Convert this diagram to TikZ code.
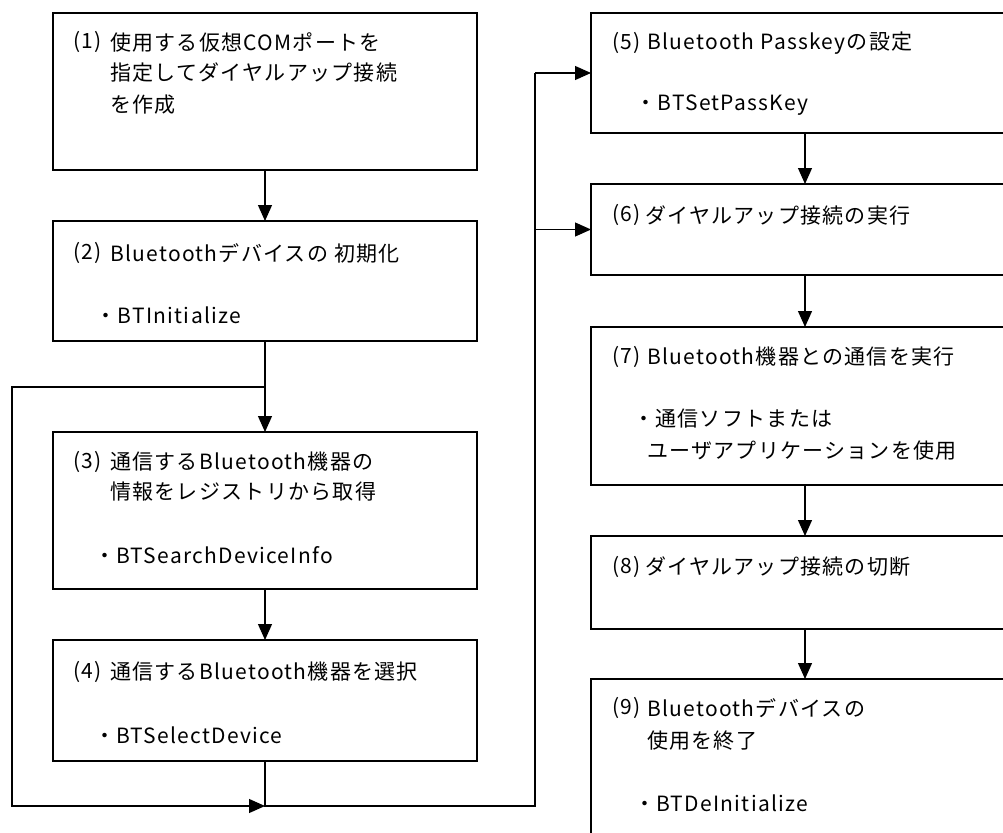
\documentclass[tikz,border=0pt]{standalone}
\usepackage{fontspec}
\setmainfont[LetterSpace=6]{Noto Sans CJK JP}
\usetikzlibrary{arrows.meta}
\begin{document}
\begin{tikzpicture}[x=1pt,y=-1pt,
  box/.style={draw,line width=1.2pt,inner sep=0pt,outer sep=0pt,minimum width=424pt},
  rbox/.style={box,minimum width=428pt},
  txt/.style={anchor=west,inner sep=0pt,font=\fontsize{21pt}{25pt}\selectfont},
  ln/.style={line width=1.2pt},
  arr/.style={ln,-{Triangle[length=16pt,width=14pt]}}]
\useasboundingbox (0,0) rectangle (1003,832);
\fill[white] (0,0) rectangle (1003,832);
\clip (0,0) rectangle (1003,832);
% left column boxes
\node[box,minimum height=157pt] (b1) at (265,91.5) {};
\node[box,minimum height=120pt] (b2) at (265,281) {};
\node[box,minimum height=157pt] (b3) at (265,510.5) {};
\node[box,minimum height=121pt] (b4) at (265,700.5) {};
% right column boxes
\node[rbox,minimum height=120pt] (b5) at (805,73) {};
\node[rbox,minimum height=91pt] (b6) at (805,229.5) {};
\node[rbox,minimum height=158pt] (b7) at (805,406) {};
\node[rbox,minimum height=93pt] (b8) at (805,582.5) {};
\node[rbox,minimum height=220pt] (b9) at (805,789) {};
% texts
\node[txt] (t1a) at (73,42) {(1)};
\node[txt] (t1b) at (110,42) {使用する仮想COMポートを};
\node[txt] (t1c) at (110,73) {指定してダイヤルアップ接続};
\node[txt] (t1d) at (110,105) {を作成};
\node[txt] (t2a) at (73,253) {(2)};
\node[txt] (t2b) at (110,253) {Bluetoothデバイスの 初期化};
\node[txt] (t2c) at (95.5,315) {・BTInitialize};
\node[txt] (t3a) at (73,462) {(3)};
\node[txt] (t3b) at (110,462) {通信するBluetooth機器の};
\node[txt] (t3c) at (110,492) {情報をレジストリから取得};
\node[txt] (t3d) at (94,555) {・BTSearchDeviceInfo};
\node[txt] (t4a) at (73,672) {(4)};
\node[txt] (t4b) at (110,672) {通信するBluetooth機器を選択};
\node[txt] (t4c) at (94,735) {・BTSelectDevice};
\node[txt] (t5a) at (612,43) {(5)};
\node[txt] (t5b) at (647,43) {Bluetooth Passkeyの設定};
\node[txt] (t5c) at (635.5,105) {・BTSetPassKey};
\node[txt] (t6a) at (612,215) {(6)};
\node[txt] (t6b) at (645,215) {ダイヤルアップ接続の実行};
\node[txt] (t7a) at (612,357) {(7)};
\node[txt] (t7b) at (647,357) {Bluetooth機器との通信を実行};
\node[txt] (t7c) at (633,419) {・通信ソフトまたは};
\node[txt] (t7d) at (647,451) {ユーザアプリケーションを使用};
\node[txt] (t8a) at (612,567) {(8)};
\node[txt] (t8b) at (645,567) {ダイヤルアップ接続の切断};
\node[txt] (t9a) at (612,708) {(9)};
\node[txt] (t9b) at (647,708) {Bluetoothデバイスの};
\node[txt] (t9c) at (647,741) {使用を終了};
\node[txt] (t9d) at (634,803) {・BTDeInitialize};
% junction coordinates
\coordinate (jl) at (12,387);
\coordinate (jb) at (12,806);
\coordinate (jm) at (265,806);
\coordinate (jr) at (535,806);
\coordinate (j5) at (535,73);
\coordinate (j6) at (535,229.5);
% connectors
\draw[arr] (b1.south) -- (b2.north);
\draw[arr] (b2.south) -- (b3.north);
\draw[arr] (b3.south) -- (b4.north);
\draw[arr] (b2.south |- jl) -- (jl) -- (jb) -- (jm);
\draw[ln] (b4.south) -- (jm) -- (jr) -- (j5);
\draw[arr] (j5) -- (j5 -| b5.west);
\draw[arr] (j6) -- (j6 -| b6.west);
\draw[arr] (b5.south) -- (b6.north);
\draw[arr] (b6.south) -- (b7.north);
\draw[arr] (b7.south) -- (b8.north);
\draw[arr] (b8.south) -- (b9.north);
\end{tikzpicture}
\end{document}
